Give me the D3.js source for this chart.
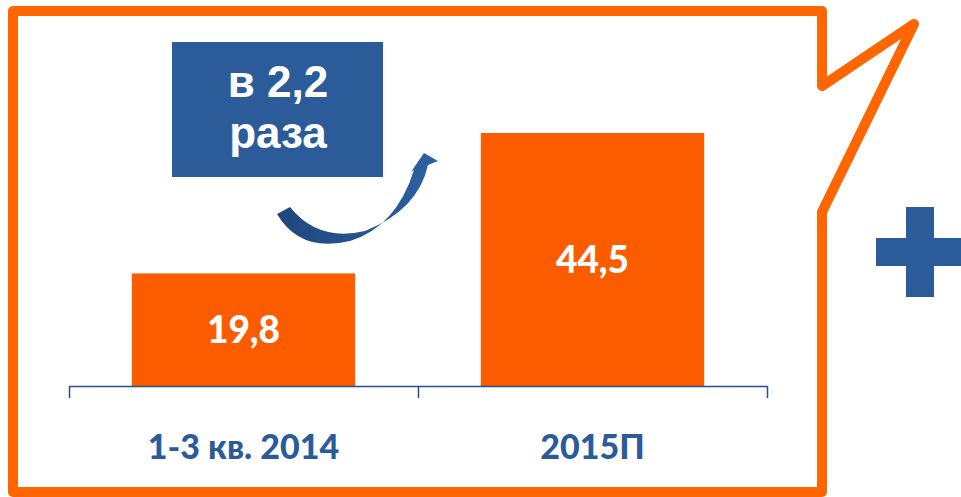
<!DOCTYPE html>
<html lang="ru">
<head>
<meta charset="utf-8"/>
<style>
body { margin: 0; background: #fff; }
.axis .domain { stroke: #24508c; stroke-width: 1.5px; }
.axis line { stroke: #24508c; stroke-width: 1.5px; }
</style>
</head>
<body>
<svg width="961" height="497"></svg>
<script src="https://d3js.org/d3.v7.min.js"></script>
<script>

var categories = ["1-3 кв. 2014", "2015П"];
var values = [19.8, 44.5];
var valueLabels = ["19,8", "44,5"];
var growthLabel = ["в 2,2", "раза"];

var orange = "#fb5c00",
    border = "#ff6600",
    blue = "#2b5c99";

var svg = d3.select("svg");

// speech bubble frame
svg.append("path")
  .attr("d", d3.line()([[13, 11], [822, 11], [822, 86], [914, 24], [822, 212], [822, 492], [13, 492]]) + "Z")
  .attr("fill", "none")
  .attr("stroke", border)
  .attr("stroke-width", 10)
  .attr("stroke-linejoin", "round");

var x = d3.scaleBand()
    .domain(categories)
    .range([69, 767])
    .paddingInner(0.36)
    .paddingOuter(0.18);

var y = d3.scaleLinear()
    .domain([0, 44.5])
    .range([386, 133]);

// bars
svg.append("g")
  .selectAll("rect")
  .data(values)
  .enter().append("rect")
  .attr("x", function(d, i) { return x(categories[i]); })
  .attr("y", function(d) { return y(d); })
  .attr("width", x.bandwidth())
  .attr("height", function(d) { return y(0) - y(d); })
  .attr("fill", orange);

// value labels inside bars
svg.append("g")
  .selectAll("text")
  .data(values)
  .enter().append("text")
  .attr("x", function(d, i) { return x(categories[i]) + x.bandwidth() / 2; })
  .attr("y", function(d) { return (y(d) + y(0)) / 2; })
  .attr("dy", "0.36em")
  .attr("text-anchor", "middle")
  .attr("fill", "#fff")
  .attr("font-family", "Lato, 'Open Sans', sans-serif")
  .attr("font-weight", 900)
  .attr("font-size", 37)
  .text(function(d, i) { return valueLabels[i]; });

// axis with ticks at category boundaries
var xb = d3.scaleLinear().domain([0, categories.length]).range(x.range());
svg.append("g")
  .attr("class", "axis")
  .attr("transform", "translate(0," + y(0) + ")")
  .call(d3.axisBottom(xb).tickValues(d3.range(categories.length + 1)).tickSize(12).tickSizeOuter(0).tickFormat(""));

var labels = svg.append("g")
  .attr("transform", "translate(0," + y(0) + ")")
  .call(d3.axisBottom(x).tickSize(0).tickPadding(49));
labels.select(".domain").remove();
labels.selectAll("text")
  .attr("fill", blue)
  .attr("font-family", "Lato, 'Open Sans', sans-serif")
  .attr("font-weight", 900)
  .attr("font-size", 34);

// "в 2,2 раза" box
svg.append("rect")
  .attr("x", 172).attr("y", 42)
  .attr("width", 211).attr("height", 135)
  .attr("fill", blue);

svg.append("g")
  .selectAll("text")
  .data(growthLabel)
  .enter().append("text")
  .attr("x", 278)
  .attr("y", function(d, i) { return 97 + i * 51; })
  .attr("text-anchor", "middle")
  .attr("fill", "#fff")
  .attr("font-family", "'Liberation Sans', Arial, sans-serif")
  .attr("font-weight", "bold")
  .attr("font-size", 44)
  .text(function(d) { return d; });

// curved arrow
var defs = svg.append("defs");
var grad = defs.append("linearGradient").attr("id", "arrowGrad")
  .attr("x1", "0%").attr("x2", "100%").attr("y1", "0%").attr("y2", "0%");
grad.append("stop").attr("offset", "0%").attr("stop-color", "#1f477c");
grad.append("stop").attr("offset", "100%").attr("stop-color", "#2d61a2");

svg.append("path")
  .attr("d", "M277,214 Q300,253 350,241 Q396,227 414,170 L411,172 L424,153 L438,161 L428,165 Q418,210 365,231 Q318,242 290,207 Z")
  .attr("fill", "url(#arrowGrad)");

// plus sign
svg.append("rect").attr("x", 906).attr("y", 207).attr("width", 28).attr("height", 90).attr("fill", blue);
svg.append("rect").attr("x", 876).attr("y", 238).attr("width", 88).attr("height", 28).attr("fill", blue);

</script>
</body>
</html>
